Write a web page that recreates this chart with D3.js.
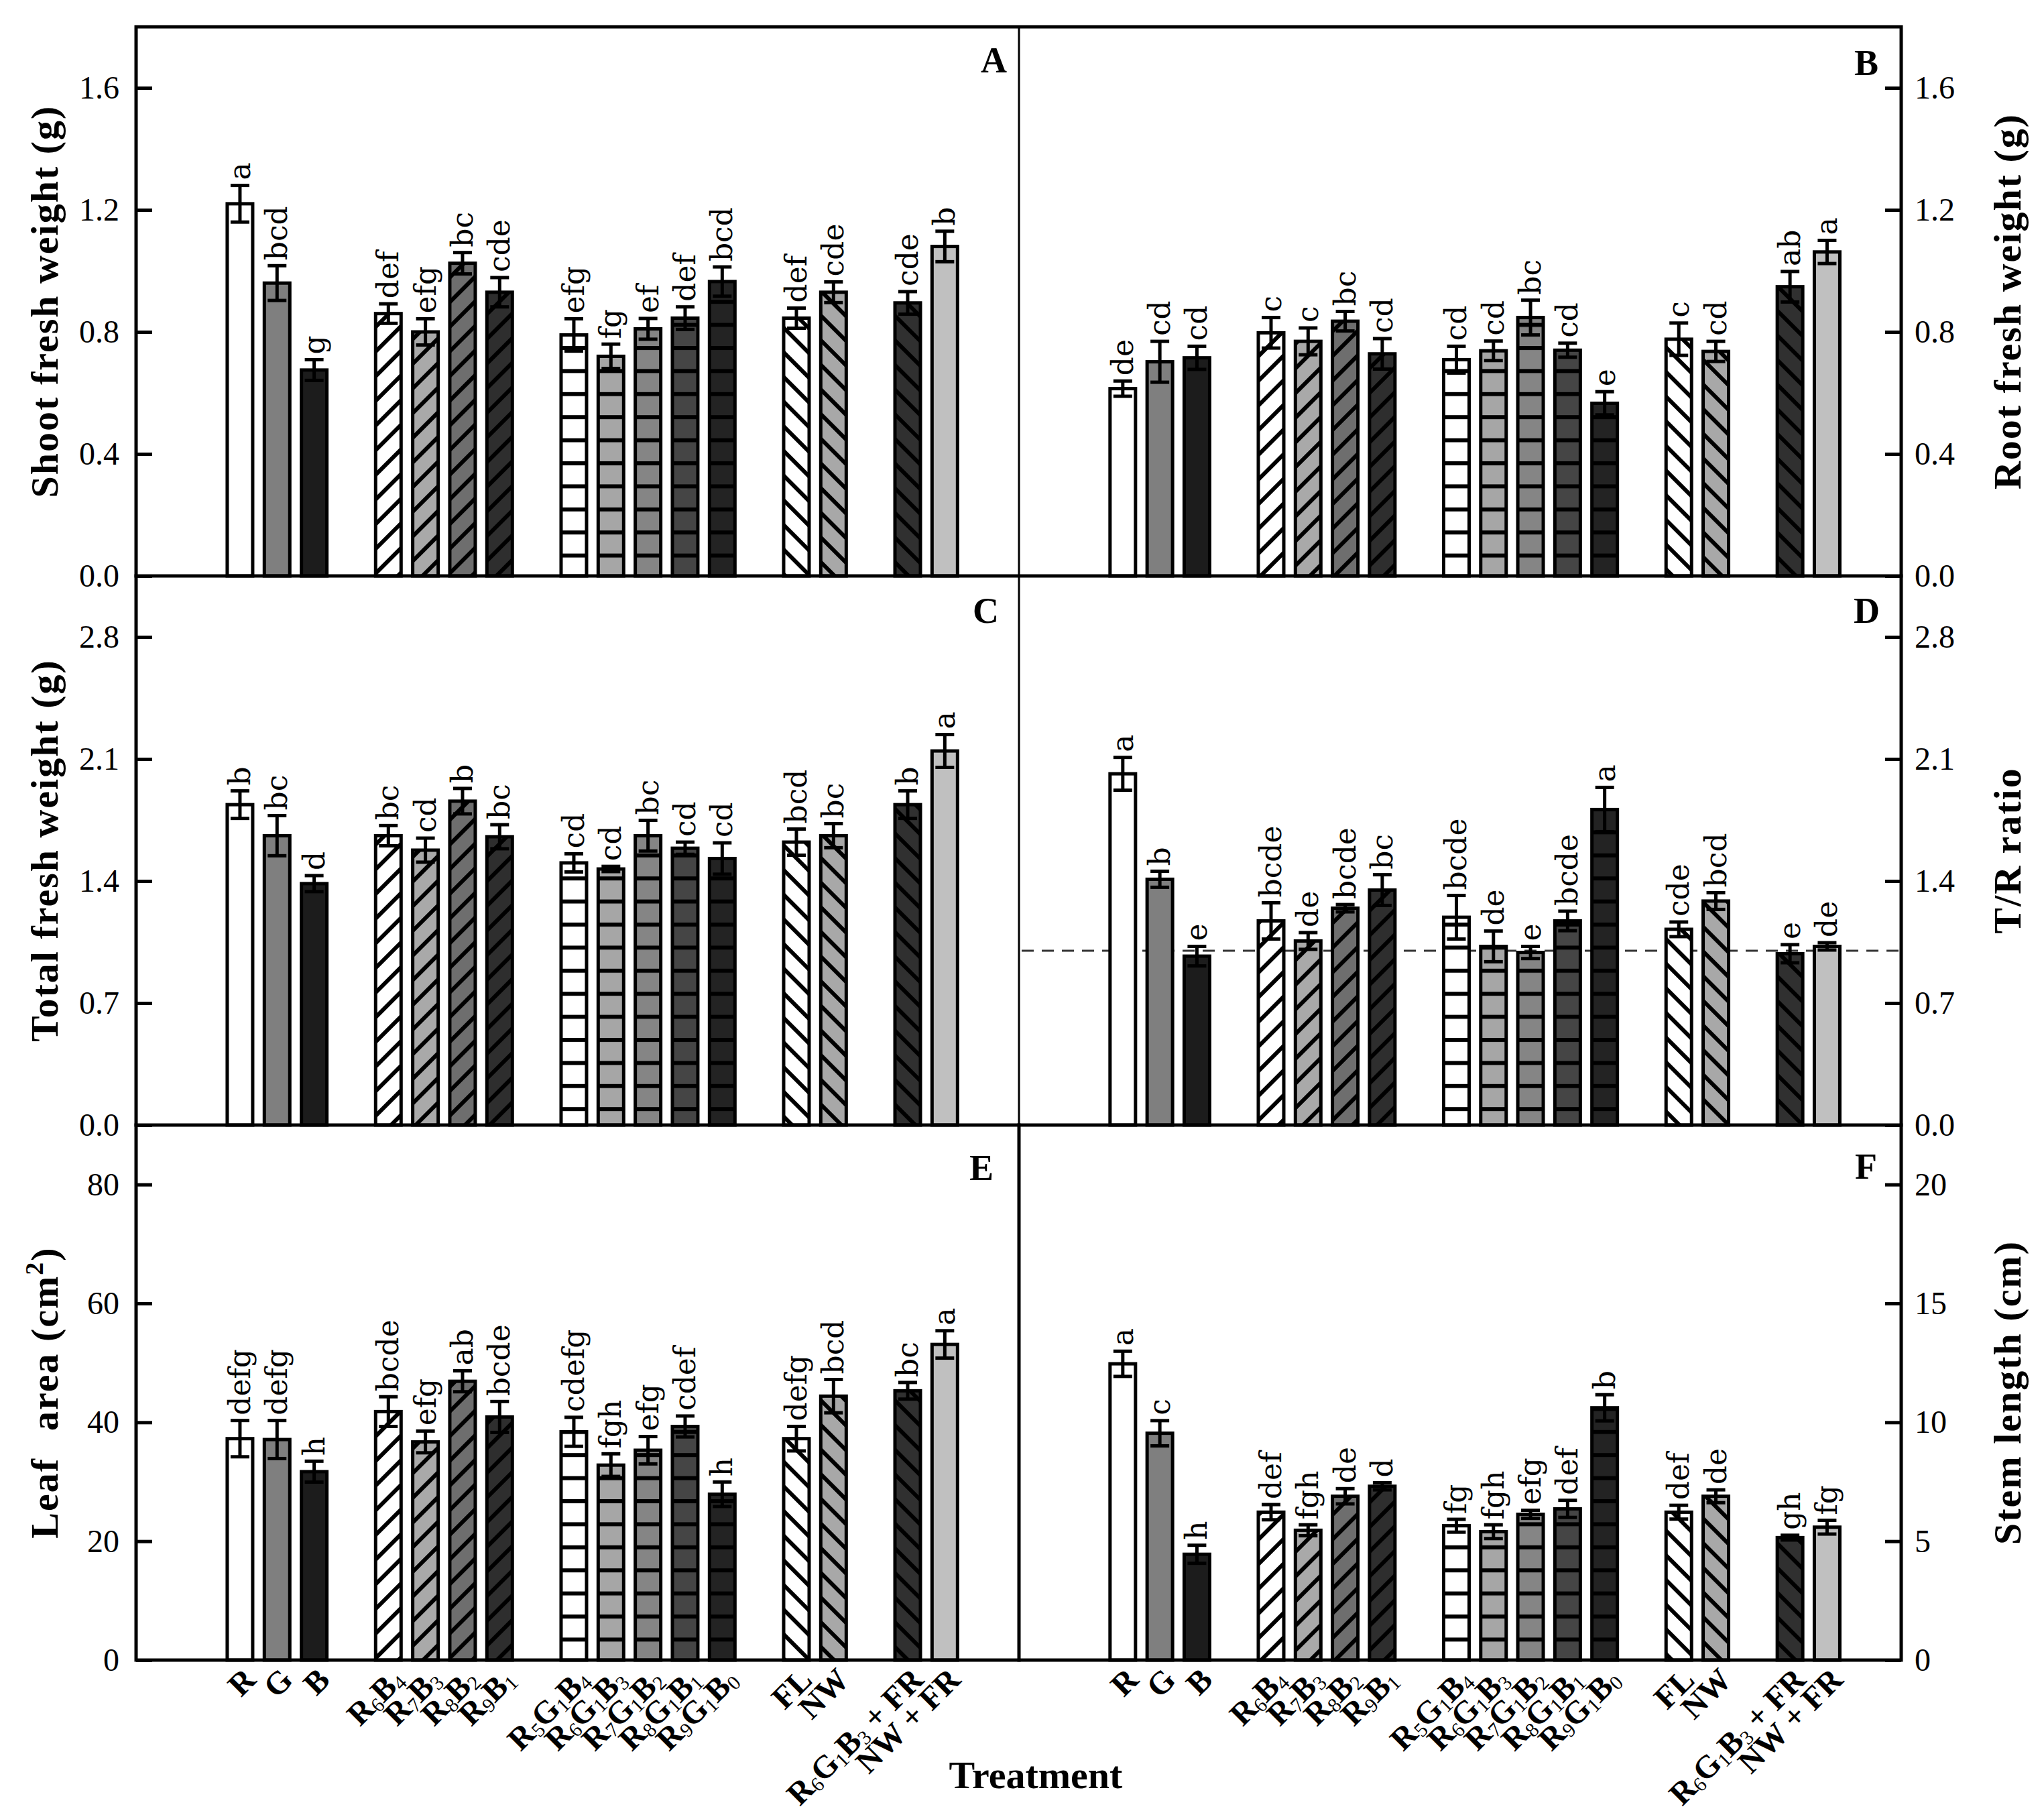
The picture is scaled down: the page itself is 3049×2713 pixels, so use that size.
<!DOCTYPE html>
<html>
<head>
<meta charset="utf-8">
<script src="https://cdnjs.cloudflare.com/ajax/libs/d3/7.8.5/d3.min.js"></script>
<style>
  body { margin: 0; background: #fff; }
  text { font-family: "Liberation Serif", "Times New Roman", serif; fill: #000; }
  text.sig { font-family: "DejaVu Serif", serif; }
</style>
</head>
<body>
<svg id="chart" width="3049" height="2713"></svg>
<script>
// treatments, in plotting order; groups are separated by an empty slot
var categories = ["R", "G", "B", "R6B4", "R7B3", "R8B2", "R9B1",
  "R5G1B4", "R6G1B3", "R7G1B2", "R8G1B1", "R9G1B0", "FL", "NW",
  "R6G1B3 + FR", "NW + FR"];
var groupSizes = [3, 4, 5, 2, 2];

// A - shoot fresh weight (g)
var shootFW  = [1.22, 0.96, 0.675, 0.86, 0.80, 1.025, 0.93, 0.79, 0.72, 0.81, 0.845, 0.965, 0.845, 0.93, 0.895, 1.08];
var shootErr = [0.06, 0.057, 0.034, 0.032, 0.043, 0.035, 0.048, 0.053, 0.04, 0.034, 0.037, 0.048, 0.033, 0.034, 0.037, 0.05];
var shootLet = ["a", "bcd", "g", "def", "efg", "bc", "cde", "efg", "fg", "ef", "def", "bcd", "def", "cde", "cde", "b"];

// B - root fresh weight (g)
var rootFW  = [0.614, 0.702, 0.715, 0.797, 0.769, 0.835, 0.728, 0.709, 0.738, 0.847, 0.74, 0.566, 0.776, 0.736, 0.948, 1.062];
var rootErr = [0.025, 0.067, 0.038, 0.05, 0.044, 0.032, 0.05, 0.044, 0.032, 0.057, 0.023, 0.038, 0.053, 0.033, 0.05, 0.038];
var rootLet = ["de", "cd", "cd", "c", "c", "bc", "cd", "cd", "cd", "bc", "cd", "e", "c", "cd", "ab", "a"];

// C - total fresh weight (g)
var totalFW  = [1.838, 1.66, 1.385, 1.66, 1.577, 1.858, 1.654, 1.504, 1.469, 1.66, 1.588, 1.529, 1.623, 1.66, 1.838, 2.146];
var totalErr = [0.079, 0.115, 0.046, 0.058, 0.069, 0.073, 0.069, 0.052, 0.015, 0.088, 0.035, 0.09, 0.075, 0.069, 0.079, 0.094];
var totalLet = ["b", "bc", "d", "bc", "cd", "b", "bc", "cd", "cd", "bc", "cd", "cd", "bcd", "bc", "b", "a"];

// D - T/R ratio
var trRatio = [2.015, 1.41, 0.969, 1.171, 1.056, 1.244, 1.348, 1.192, 1.025, 0.99, 1.171, 1.81, 1.123, 1.285, 0.983, 1.025];
var trErr   = [0.094, 0.046, 0.056, 0.104, 0.048, 0.021, 0.088, 0.125, 0.088, 0.035, 0.056, 0.127, 0.042, 0.048, 0.052, 0.021];
var trLet   = ["a", "b", "e", "bcde", "de", "bcde", "bc", "bcde", "de", "e", "bcde", "a", "cde", "bcd", "e", "de"];
var trRef = 1.0;

// E - leaf area (cm2)
var leafArea = [37.25, 37.1, 31.7, 41.8, 36.7, 46.9, 40.9, 38.4, 32.8, 35.3, 39.3, 27.9, 37.25, 44.4, 45.3, 53.1];
var leafErr  = [3.05, 3.2, 1.76, 2.5, 1.83, 1.76, 2.6, 2.44, 1.9, 2.3, 1.76, 2.06, 2.06, 2.8, 1.4, 2.3];
var leafLet  = ["defg", "defg", "h", "bcde", "efg", "ab", "bcde", "cdefg", "fgh", "efg", "cdef", "h", "defg", "bcd", "bc", "a"];

// F - stem length (cm)
var stemLen = [12.46, 9.54, 4.45, 6.22, 5.46, 6.89, 7.31, 5.65, 5.4, 6.13, 6.36, 10.61, 6.22, 6.89, 5.15, 5.59];
var stemErr = [0.53, 0.53, 0.38, 0.32, 0.23, 0.32, 0.15, 0.27, 0.29, 0.17, 0.36, 0.55, 0.29, 0.27, 0.1, 0.29];
var stemLet = ["a", "c", "h", "def", "fgh", "de", "d", "fg", "fgh", "efg", "def", "b", "def", "de", "gh", "fg"];

var ticksA = [0, 0.4, 0.8, 1.2, 1.6];
var ticksC = [0, 0.7, 1.4, 2.1, 2.8];
var ticksE = [0, 20, 40, 60, 80];
var ticksF = [0, 5, 10, 15, 20];

// bar look per treatment
var barStyles = [
  {fill: "#ffffff"}, {fill: "#7f7f7f"}, {fill: "#1c1c1c"},
  {fill: "#ffffff", hatch: "fwd"}, {fill: "#a9a9a9", hatch: "fwd"}, {fill: "#6e6e6e", hatch: "fwd"}, {fill: "#2e2e2e", hatch: "fwd"},
  {fill: "#ffffff", hatch: "hor"}, {fill: "#a6a6a6", hatch: "hor"}, {fill: "#858585", hatch: "hor"}, {fill: "#454545", hatch: "hor"}, {fill: "#232323", hatch: "hor"},
  {fill: "#ffffff", hatch: "back"}, {fill: "#a8a8a8", hatch: "back"},
  {fill: "#303030", hatch: "back"}, {fill: "#c0c0c0"}
];

// slot index of every bar (one empty slot between groups)
var slots = [];
groupSizes.forEach(function(n, g) {
  var start = slots.length ? slots[slots.length - 1] + 2 : 0;
  for (var i = 0; i < n; i++) slots.push(start + i);
});

var cols = [[203, 1520], [1520, 2836]];
var rows = [[40, 859], [859, 1678], [1678, 2476]];

var panels = [
  {key: "A", col: 0, row: 0, values: shootFW, errs: shootErr, letters: shootLet, max: 1.8, ticks: ticksA, fmt: ".1f", title: "Shoot fresh weight (g)", lab: [-18, 68]},
  {key: "B", col: 1, row: 0, values: rootFW, errs: rootErr, letters: rootLet, max: 1.8, ticks: ticksA, fmt: ".1f", title: "Root fresh weight (g)", lab: [-34, 72]},
  {key: "C", col: 0, row: 1, values: totalFW, errs: totalErr, letters: totalLet, max: 3.15, ticks: ticksC, fmt: ".1f", title: "Total fresh weight (g)", lab: [-30, 70]},
  {key: "D", col: 1, row: 1, values: trRatio, errs: trErr, letters: trLet, max: 3.15, ticks: ticksC, fmt: ".1f", title: "T/R ratio", lab: [-32, 70], ref: trRef},
  {key: "E", col: 0, row: 2, values: leafArea, errs: leafErr, letters: leafLet, max: 90, ticks: ticksE, fmt: "d", title: "Leaf area", lab: [-38, 82]},
  {key: "F", col: 1, row: 2, values: stemLen, errs: stemErr, letters: stemLet, max: 22.5, ticks: ticksF, fmt: "d", title: "Stem length (cm)", lab: [-36, 80]}
];

var svg = d3.select("#chart");
svg.append("rect").attr("width", 3049).attr("height", 2713).attr("fill", "#fff");
var defs = svg.append("defs");

// one pattern per hatched bar style
barStyles.forEach(function(s, i) {
  if (!s.hatch) return;
  var p = defs.append("pattern").attr("id", "pat" + i).attr("patternUnits", "userSpaceOnUse");
  if (s.hatch == "hor") {
    p.attr("width", 20).attr("height", 34.4);
    p.append("rect").attr("width", 20).attr("height", 34.4).attr("fill", s.fill);
    p.append("rect").attr("width", 20).attr("height", 6).attr("fill", "#000");
  } else {
    p.attr("width", 26).attr("height", 26)
      .attr("patternTransform", "rotate(" + (s.hatch == "fwd" ? -45 : 45) + ")");
    p.append("rect").attr("width", 26).attr("height", 26).attr("fill", s.fill);
    p.append("rect").attr("y", 10).attr("width", 26).attr("height", 6).attr("fill", "#000");
  }
});

function barFill(i) {
  return barStyles[i].hatch ? "url(#pat" + i + ")" : barStyles[i].fill;
}

function addLabel(sel, str) {
  // digits are written as subscripts
  var parts = str.match(/\d+|[^\d]+/g);
  var low = false;
  parts.forEach(function(t) {
    var isSub = /\d/.test(t);
    var ts = sel.append("tspan").text(t);
    if (isSub && !low) { ts.attr("dy", 5).attr("font-size", 30).attr("font-weight", "normal"); low = true; }
    else if (isSub) { ts.attr("font-size", 30); }
    else if (low) { ts.attr("dy", -5); low = false; }
  });
}

panels.forEach(function(p) {
  var x0 = cols[p.col][0], x1 = cols[p.col][1];
  var y0 = rows[p.row][0], y1 = rows[p.row][1];
  var x = d3.scaleLinear().domain([-2.8, 21.0]).range([x0, x1]);
  var y = d3.scaleLinear().domain([0, p.max]).range([y1, y0]);
  var g = svg.append("g");

  if (p.ref != null) {
    g.append("line")
      .attr("x1", x0 + 4).attr("x2", x1 - 4)
      .attr("y1", y(p.ref)).attr("y2", y(p.ref))
      .attr("stroke", "#333").attr("stroke-width", 3)
      .attr("stroke-dasharray", "18,12");
  }

  var bw = 38;
  g.selectAll(".bar").data(p.values).enter().append("rect")
    .attr("x", function(d, i) { return x(slots[i]) - bw / 2; })
    .attr("y", function(d) { return y(d); })
    .attr("width", bw)
    .attr("height", function(d) { return y(0) - y(d); })
    .attr("fill", function(d, i) { return barFill(i); })
    .attr("stroke", "#000").attr("stroke-width", 5);

  // error bars
  var eb = g.selectAll(".err").data(p.values).enter().append("g")
    .attr("stroke", "#000").attr("stroke-width", 5);
  eb.append("line")
    .attr("x1", function(d, i) { return x(slots[i]); })
    .attr("x2", function(d, i) { return x(slots[i]); })
    .attr("y1", function(d, i) { return y(d + p.errs[i]); })
    .attr("y2", function(d, i) { return y(d - p.errs[i]); });
  [1, -1].forEach(function(sgn) {
    eb.append("line")
      .attr("x1", function(d, i) { return x(slots[i]) - 14; })
      .attr("x2", function(d, i) { return x(slots[i]) + 14; })
      .attr("y1", function(d, i) { return y(d + sgn * p.errs[i]); })
      .attr("y2", function(d, i) { return y(d + sgn * p.errs[i]); });
  });

  // significance letters
  g.selectAll(".let").data(p.values).enter().append("text")
    .attr("class", "sig")
    .attr("transform", function(d, i) {
      return "translate(" + (x(slots[i]) + 15) + "," + (y(d + p.errs[i]) - 8) + ") rotate(-90)";
    })
    .attr("font-size", 44)
    .text(function(d, i) { return p.letters[i]; });

  // y axis with inward ticks
  var axis = (p.col == 0 ? d3.axisLeft(y) : d3.axisRight(y))
    .tickValues(p.ticks).tickSize(-24).tickPadding(p.col == 0 ? 25 : 20)
    .tickFormat(d3.format(p.fmt));
  var ag = svg.append("g")
    .attr("transform", "translate(" + (p.col == 0 ? x0 : x1) + ",0)")
    .call(axis);
  ag.select(".domain").remove();
  ag.selectAll(".tick line").attr("stroke", "#000").attr("stroke-width", 5);
  ag.selectAll(".tick text").attr("font-size", 48).attr("fill", "#000");

  // panel letter
  svg.append("text")
    .attr("x", x1 + p.lab[0]).attr("y", y0 + p.lab[1])
    .attr("text-anchor", "end").attr("font-size", 54).attr("font-weight", "bold")
    .text(p.key);

  // axis title
  var tx = p.col == 0 ? 86 : 3014;
  var tt = svg.append("text")
    .attr("transform", "translate(" + tx + "," + (y0 + y1) / 2 + ") rotate(-90)")
    .attr("text-anchor", "middle").attr("font-size", 58).attr("font-weight", "bold")
    .attr("letter-spacing", 2);
  if (p.key == "E") {
    tt.append("tspan").text("Leaf");
    tt.append("tspan").attr("dx", 40).text("area (cm");
    tt.append("tspan").attr("dy", -22).attr("font-size", 38).text("2");
    tt.append("tspan").attr("dy", 22).text(")");
  } else {
    tt.text(p.title);
  }

  // category labels under the bottom row
  if (p.row == 2) {
    categories.forEach(function(c, i) {
      var t = svg.append("text")
        .attr("transform", "translate(" + (x(slots[i]) + 26) + "," + (y1 + 32) + ") rotate(-45)")
        .attr("text-anchor", "end").attr("font-size", 48).attr("font-weight", "bold");
      addLabel(t, c);
    });
  }
});

// frame
var frame = svg.append("g").attr("stroke", "#000").attr("stroke-linecap", "square");
frame.append("rect").attr("x", 203).attr("y", 40).attr("width", 2836 - 203).attr("height", 2476 - 40)
  .attr("fill", "none").attr("stroke-width", 5);
[859, 1678].forEach(function(yy) {
  frame.append("line").attr("x1", 203).attr("x2", 2836).attr("y1", yy).attr("y2", yy).attr("stroke-width", 5);
});
frame.append("line").attr("x1", 1520).attr("x2", 1520).attr("y1", 40).attr("y2", 1678).attr("stroke-width", 3);
frame.append("line").attr("x1", 1520).attr("x2", 1520).attr("y1", 1678).attr("y2", 2476).attr("stroke-width", 5);

svg.append("text")
  .attr("x", 1545).attr("y", 2667)
  .attr("text-anchor", "middle").attr("font-size", 58).attr("font-weight", "bold")
  .text("Treatment");
</script>
</body>
</html>
